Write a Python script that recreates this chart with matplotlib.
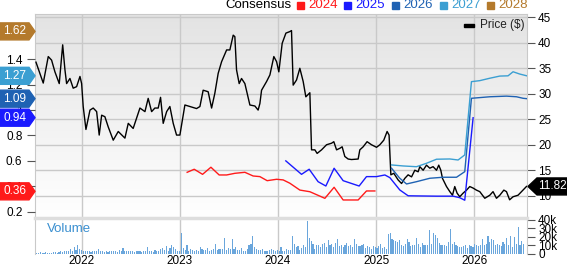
import numpy as np
import matplotlib
import matplotlib.pyplot as plt
from matplotlib.colors import LinearSegmentedColormap
from matplotlib.patches import Polygon, Rectangle
from matplotlib.lines import Line2D
matplotlib.use('Agg')

plt.rcParams['font.family'] = ['Liberation Sans', 'DejaVu Sans']

# closing price ($), x in decimal years
price_t = [2021.535, 2021.609, 2021.660, 2021.694, 2021.728, 2021.772, 2021.807, 2021.830, 2021.847, 2021.881,
           2021.914, 2021.949, 2021.983, 2022.000, 2022.016, 2022.044, 2022.085, 2022.118, 2022.153, 2022.179,
           2022.204, 2022.237, 2022.271, 2022.322, 2022.373, 2022.441, 2022.475, 2022.525, 2022.594, 2022.645,
           2022.678, 2022.713, 2022.746, 2022.780, 2022.804, 2022.831, 2022.866, 2022.899, 2022.933, 2022.967,
           2023.001, 2023.052, 2023.103, 2023.171, 2023.205, 2023.238, 2023.289, 2023.324, 2023.357, 2023.391,
           2023.426, 2023.477, 2023.510, 2023.544, 2023.561, 2023.578, 2023.605, 2023.629, 2023.663, 2023.714,
           2023.765, 2023.798, 2023.816, 2023.833, 2023.884, 2023.918, 2023.958, 2023.986, 2024.009, 2024.043,
           2024.081, 2024.121, 2024.138, 2024.155, 2024.189, 2024.223, 2024.257, 2024.284, 2024.325, 2024.342,
           2024.376, 2024.399, 2024.444, 2024.495, 2024.546, 2024.569, 2024.597, 2024.630, 2024.654, 2024.681,
           2024.715, 2024.749, 2024.817, 2024.834, 2024.868, 2024.908, 2024.953, 2025.004, 2025.038, 2025.078,
           2025.112, 2025.132, 2025.150, 2025.180, 2025.224, 2025.259, 2025.292, 2025.326, 2025.361, 2025.394,
           2025.428, 2025.445, 2025.479, 2025.513, 2025.547, 2025.580, 2025.615, 2025.638, 2025.659, 2025.676,
           2025.717, 2025.751, 2025.778, 2025.801, 2025.825, 2025.852, 2025.886, 2025.921, 2025.954, 2025.988,
           2026.022, 2026.056, 2026.107, 2026.158, 2026.191, 2026.226, 2026.260, 2026.301, 2026.328, 2026.360,
           2026.395, 2026.446, 2026.481, 2026.532]
price_v = [36.2, 32.1, 37.3, 36.6, 34.3, 32.0, 39.6, 34.7, 32.0, 33.0,
           31.1, 31.4, 33.4, 32.0, 27.5, 23.0, 26.8, 27.2, 26.5, 21.9,
           25.8, 25.5, 23.5, 20.9, 22.6, 21.3, 24.2, 23.2, 27.2, 26.5,
           29.1, 26.5, 27.2, 27.2, 29.3, 24.2, 26.5, 27.5, 24.2, 21.9,
           21.9, 27.8, 27.5, 27.1, 27.5, 30.7, 30.4, 27.2, 30.1, 34.0,
           36.3, 38.6, 38.6, 41.5, 41.2, 34.7, 32.0, 33.0, 32.0, 27.8,
           27.6, 26.8, 28.1, 30.7, 32.4, 33.7, 37.3, 36.3, 34.3, 39.9,
           41.9, 42.2, 42.4, 31.7, 32.7, 35.0, 32.4, 29.4, 30.2, 19.0,
           19.0, 18.3, 19.0, 20.0, 20.3, 20.6, 19.0, 19.3, 19.6, 17.7,
           17.2, 17.1, 17.2, 19.0, 19.6, 20.6, 20.0, 19.5, 20.0, 20.9,
           22.6, 21.9, 14.1, 14.4, 13.1, 12.4, 13.4, 14.1, 13.7, 15.0,
           14.7, 15.7, 15.0, 16.0, 15.4, 15.7, 15.0, 16.0, 15.0, 13.4,
           11.8, 10.8, 10.1, 11.8, 10.5, 9.8, 10.5, 11.1, 11.8, 11.5,
           11.1, 10.8, 9.5, 10.1, 10.8, 9.5, 10.1, 11.1, 10.8, 9.2,
           9.8, 10.1, 10.8, 11.82]

# consensus EPS estimates per fiscal year
eps24_t = [2023.075, 2023.147, 2023.232, 2023.317, 2023.401, 2023.477, 2023.561, 2023.663, 2023.747, 2023.816,
           2023.890, 2023.986, 2024.053, 2024.121, 2024.223, 2024.325, 2024.478, 2024.572, 2024.664, 2024.817,
           2024.902, 2024.987]
eps24_v = [0.51, 0.534, 0.494, 0.55, 0.489, 0.489, 0.502, 0.51, 0.481, 0.476,
           0.444, 0.455, 0.45, 0.424, 0.37, 0.357, 0.305, 0.392, 0.292, 0.292,
           0.363, 0.363]
eps25_t = [2024.080, 2024.240, 2024.318, 2024.409, 2024.488, 2024.572, 2024.664, 2024.827, 2024.902, 2025.004,
           2025.089, 2025.140, 2025.241, 2025.326, 2025.411, 2025.615, 2025.784, 2025.852, 2025.903, 2025.988]
eps25_v = [0.60, 0.494, 0.534, 0.436, 0.402, 0.542, 0.444, 0.402, 0.476, 0.476,
           0.489, 0.468, 0.371, 0.325, 0.324, 0.322, 0.322, 0.31, 0.29, 0.94]
eps26_t = [2025.157, 2025.241, 2025.310, 2025.411, 2025.547, 2025.682, 2025.819, 2025.903, 2025.971, 2026.158,
           2026.328, 2026.430, 2026.497, 2026.535]
eps26_v = [0.542, 0.463, 0.418, 0.436, 0.463, 0.471, 0.471, 0.515, 1.093, 1.105,
           1.11, 1.105, 1.093, 1.09]
eps27_t = [2025.157, 2025.275, 2025.411, 2025.513, 2025.615, 2025.751, 2025.835, 2025.903, 2025.971, 2026.056,
           2026.158, 2026.260, 2026.344, 2026.395, 2026.463, 2026.535]
eps27_v = [0.568, 0.56, 0.554, 0.581, 0.613, 0.615, 0.607, 0.647, 1.224, 1.232,
           1.251, 1.268, 1.27, 1.302, 1.284, 1.27]

legend_years = ['2024', '2025', '2026', '2027', '2028']
year_colors = ['#ff1a1a', '#1a1aff', '#1f62b3', '#3b9fd2', '#b47a2c']
badge_vals = [0.36, 0.94, 1.09, 1.27, 1.62]
last_price = 11.82

# weekly volume (thousands), starting mid July 2021
vol_start = 2021.54
vol_k = [1, 1, 2, 1, 1, 2, 1, 1, 1, 2, 2, 1, 2, 3, 2, 3, 4, 3, 6, 4, 8, 5, 10, 6,
         5, 4, 4, 3, 3, 2, 3, 4, 3, 6, 3, 3, 2, 3, 2, 3, 3, 4, 3, 2, 5, 3, 7, 4, 3, 3,
         3, 4, 2, 3, 4, 3, 2, 3, 4, 8, 3, 4, 2, 5, 3, 4, 6, 7, 5, 9, 4, 7, 11, 8, 6, 3,
         4, 25, 7, 5, 10, 4, 6, 5, 4, 5, 4, 8, 6, 5, 5, 7, 4, 5, 6, 12, 5, 6, 6, 6, 19, 5,
         7, 6, 17, 6, 8, 5, 5, 7, 4, 4, 6, 10, 12, 21, 8, 6, 5, 5, 6, 3, 4, 4, 5, 6, 5, 4,
         5, 4, 8, 4, 3, 6, 5, 5, 21, 12, 8, 9, 5, 7, 10, 8, 38, 19, 15, 12, 6, 11, 10, 8, 12, 13,
         8, 16, 10, 12, 8, 13, 17, 9, 10, 8, 11, 13, 9, 10, 8, 17, 12, 9, 9, 10, 12, 7, 9, 8, 6, 9,
         8, 7, 9, 12, 7, 8, 6, 23, 24, 18, 16, 15, 14, 16, 10, 9, 12, 18, 14, 9, 10, 11, 19, 12, 8, 13,
         10, 11, 10, 28, 12, 24, 22, 19, 13, 10, 11, 10, 9, 14, 29, 12, 14, 10, 9, 8, 8, 9, 11, 7, 10, 9,
         8, 12, 10, 9, 11, 18, 11, 12, 21, 14, 17, 16, 10, 12, 10, 9, 14, 12, 19, 10, 21, 8, 20, 12, 31, 10, 15, 12]

years = [2022, 2023, 2024, 2025, 2026]
price_ticks = [10, 15, 20, 25, 30, 35, 40, 45]
eps_ticks = [0.2, 0.4, 0.6, 0.8, 1.0, 1.2, 1.4]
vol_ticks = [0, 10, 20, 30, 40]

W, H = 567, 264
grid_c = '#c9c9c9'
x0, x1 = 2021.525, 2026.537

fig = plt.figure(figsize=(W / 100, H / 100), dpi=100)

# price panel (right scale) with gradient background
ax_p = fig.add_axes([35 / W, 1 - 218 / H, 492 / W, 204 / H])
grad = LinearSegmentedColormap.from_list('bg', ['#e3e3e3', '#ffffff'])
ax_p.imshow(np.linspace(0, 1, 256).reshape(-1, 1), cmap=grad, aspect='auto',
            extent=[0, 1, 0, 1], transform=ax_p.transAxes, zorder=0)
ax_p.set_xlim(x0, x1)
ax_p.set_ylim(5.63, 45.65)
for y in price_ticks:
    ax_p.axhline(y, color=grid_c, lw=1, zorder=1)
for yr in years:
    ax_p.axvline(yr, color=grid_c, lw=1, zorder=1)
ax_p.plot(price_t, price_v, color='black', lw=1, zorder=5)
for s in ax_p.spines.values():
    s.set_color(grid_c)

# EPS estimate scale (left)
ax_e = ax_p.twinx()
ax_e.patch.set_visible(False)
ax_e.set_xlim(x0, x1)
ax_e.set_ylim(0.15, 1.757)
ax_e.plot(eps24_t, eps24_v, color=year_colors[0], lw=1, zorder=3)
ax_e.plot(eps25_t, eps25_v, color=year_colors[1], lw=1, zorder=3)
ax_e.plot(eps26_t, eps26_v, color=year_colors[2], lw=1, zorder=3)
ax_e.plot(eps27_t, eps27_v, color=year_colors[3], lw=1, zorder=3)
ax_e.yaxis.tick_left()
ax_e.set_yticks(eps_ticks)
ax_e.set_yticklabels(['%g' % v for v in eps_ticks])
ax_e.set_xticks([])
ax_e.tick_params(axis='y', length=6, width=0.8, color='#555555', pad=3, labelsize=8.5)
for s in ax_e.spines.values():
    s.set_visible(False)

# price ticks go on the right (after twinx, which moves them left)
ax_p.yaxis.tick_right()
ax_p.set_yticks(price_ticks)
ax_p.set_xticks([])
ax_p.tick_params(axis='y', length=6, width=0.8, color='#555555', pad=2, labelsize=8.5)

# volume panel
ax_v = fig.add_axes([35 / W, 1 - 254 / H, 492 / W, 35 / H])
vol_t = vol_start + np.arange(len(vol_k)) * 7 / 365.25
for yr in years:
    ax_v.axvline(yr, color=grid_c, lw=1, zorder=1)
ax_v.bar(vol_t, vol_k, width=0.0115, color='#6aa6dc', linewidth=0, zorder=2)
ax_v.set_xlim(x0, x1)
ax_v.set_ylim(0, 40.7)
ax_v.yaxis.tick_right()
ax_v.set_yticks(vol_ticks)
ax_v.set_yticklabels(['0' if v == 0 else '%dk' % v for v in vol_ticks])
ax_v.set_xticks(years)
ax_v.set_xticklabels([str(y) for y in years])
ax_v.tick_params(axis='y', length=6, width=0.8, color='#555555', pad=2, labelsize=8.5)
ax_v.tick_params(axis='x', length=0, pad=0.5, labelsize=8.5)
for k, s in ax_v.spines.items():
    s.set_color(grid_c)
ax_v.spines['bottom'].set_visible(False)
ax_v.spines['top'].set_visible(False)
ax_v.text(0.025, 0.72, 'Volume', transform=ax_v.transAxes, color='#3a8fd0', fontsize=9.5, va='center')

# panel separator
fig.add_artist(Line2D([35 / W, 527 / W], [1 - 218 / H, 1 - 218 / H], color='#dedede', lw=2.5,
                      transform=fig.transFigure))

# badges on the left for latest estimates
inv = fig.transFigure.inverted()
for v, c in zip(badge_vals, year_colors):
    yf = inv.transform(ax_e.transData.transform((2022, v)))[1]
    h = 8.5 / H
    pts = [(0, yf - h), (29 / W, yf - h), (35 / W, yf), (29 / W, yf + h), (0, yf + h)]
    fig.add_artist(Polygon(pts, closed=True, color=c, transform=fig.transFigure, zorder=10))
    fig.text(15 / W, yf, '%.2f' % v, color='white', fontsize=8.5, ha='center', va='center', zorder=11)

# last price badge on the right
yf = inv.transform(ax_p.transData.transform((2022, last_price)))[1]
h = 8.5 / H
pts = [(528 / W, yf), (537 / W, yf + h), (1, yf + h), (1, yf - h), (537 / W, yf - h)]
fig.add_artist(Polygon(pts, closed=True, color='black', transform=fig.transFigure, zorder=10))
fig.text(552 / W, yf, '%.2f' % last_price, color='white', fontsize=8.5, ha='center', va='center', zorder=11)

# price legend inside the plot
fig.add_artist(Rectangle((464 / W, 1 - 26.5 / H), 10 / W, 3 / H, color='black', transform=fig.transFigure))
fig.text(480 / W, 1 - 25 / H, 'Price ($)', fontsize=8.5, va='center', color='#222222')

# consensus legend across the top
ty = 1 - 5 / H
fig.text(225 / W, ty, 'Consensus', fontsize=9.5, va='center', color='black')
sq_x = [297, 344, 392, 440, 487]
for sx, lbl, c in zip(sq_x, legend_years, year_colors):
    fig.add_artist(Rectangle((sx / W, ty - 3.5 / H), 7 / W, 7 / H, color=c, transform=fig.transFigure))
    fig.text((sx + 11) / W, ty, lbl, fontsize=9.5, va='center', color=c)

fig.savefig('out.png', dpi=100)
